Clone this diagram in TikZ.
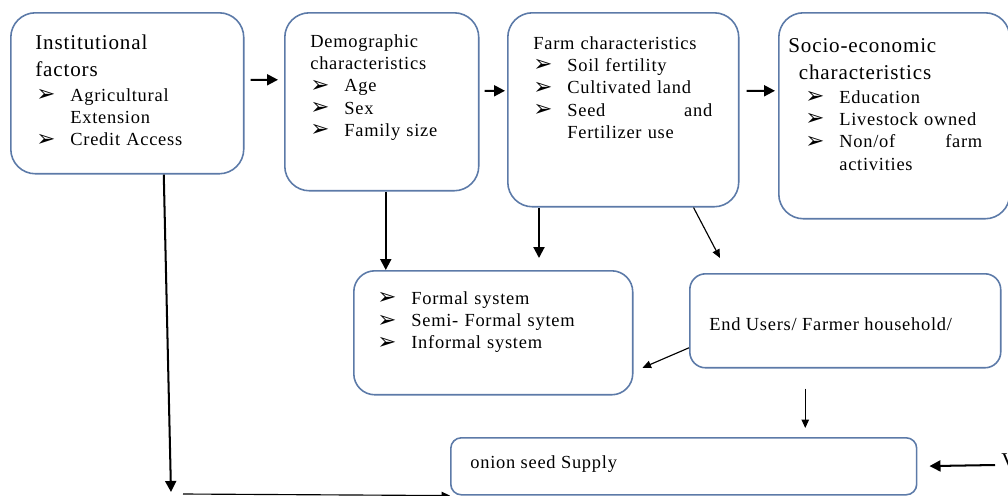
\documentclass[tikz,border=0pt]{standalone}
\usepackage{fontspec}
\setmainfont[LetterSpace=4]{Liberation Serif}
\newfontfamily\symfont{DejaVu Sans}
\usetikzlibrary{arrows.meta,calc}
\definecolor{boxblue}{RGB}{92,122,168}
% bullet and hanging indent for the lists
\newcommand{\pnt}{\makebox[0.68cm][l]{\raisebox{-0.3pt}{\symfont\fontsize{13}{13}\selectfont ➢}}}
\newcommand{\ind}{\hspace*{0.68cm}}
\tikzset{
  box/.style={draw=boxblue, line width=0.9pt, rounded corners=14pt, anchor=north west, inner sep=0pt},
  head/.style={anchor=north west, inner sep=0pt, align=left, font=\fontsize{12}{15.3}\selectfont},
  txt/.style={anchor=north west, inner sep=0pt, align=left, font=\fontsize{10.5}{12.7}\selectfont},
  flow/.style={black, line width=1.15pt, -{Triangle[length=0.22cm,width=0.22cm]}},
  link/.style={black, line width=0.65pt, -{Triangle[length=0.17cm,width=0.15cm]}},
}

\begin{document}
\begin{tikzpicture}[x=0.02cm, y=-0.02cm]
  \useasboundingbox (0,0) rectangle (1008,495);
  \clip (0,0) rectangle (1008,495);
  % top row of factor boxes
  \node[box, minimum width=4.66cm, minimum height=3.22cm] (inst) at (10,12) {};
  \node[box, minimum width=3.88cm, minimum height=3.56cm] (demo) at (284,12) {};
  \node[box, minimum width=4.62cm, minimum height=3.88cm] (farm) at (507,12) {};
  \node[box, minimum width=4.62cm, minimum height=4.12cm] (socio) at (778,12) {};
  % middle and bottom boxes
  \node[box, rounded corners=12pt, minimum width=5.58cm, minimum height=2.48cm] (formal) at (353,270) {};
  \node[box, rounded corners=9pt, minimum width=6.22cm, minimum height=1.88cm] (endu) at (689,273) {};
  \node[box, rounded corners=6pt, minimum width=9.32cm, minimum height=1.14cm] (onion) at (450,437) {};

  % box texts
  \node[head] (insthead) at ($(inst.north west)+(25,23)$) {Institutional\\factors};
  \node[txt, text width=4cm] (instlist) at ($(inst.north west)+(26,76)$)
    {\pnt Agricultural\\\ind Extension\\\pnt Credit Access};
  \node[txt, text width=3.5cm] (demolist) at ($(demo.north west)+(26,22)$)
    {Demographic\\characteristics\\\pnt Age\\\pnt Sex\\\pnt Family size};
  \node[txt, text width=3.58cm] (farmlist) at ($(farm.north west)+(26,24)$)
    {Farm characteristics\\\pnt Soil fertility\\\pnt Cultivated land\\\pnt Seed\hfill and\\\ind Fertilizer use};
  \node[head] (sociohead) at ($(socio.north west)+(10,26)$) {Socio-economic\\\hspace*{15\pgflinewidth}characteristics};
  \node[txt, text width=3.54cm] (sociolist) at ($(socio.north west)+(27,78)$)
    {\pnt Education\\\pnt Livestock owned\\\pnt Non/of\hfill farm\\\ind activities};
  \node[txt, text width=5cm] (formallist) at ($(formal.north west)+(24,21)$)
    {\pnt Formal system\\\pnt Semi- Formal sytem\\\pnt Informal system};
  \node[txt, anchor=west] (endutxt) at ($(endu.west)+(20,3)$) {End Users/ Farmer household/};
  \node[txt, anchor=west] (oniontxt) at ($(onion.west)+(20,-2)$) {onion seed Supply};
  \node[head, anchor=base west] (vlabel) at (1001,467) {V};

  % helper points for the loose arrow ends
  \coordinate (instfoot) at (171,492);
  \coordinate (footstart) at (183,494);
  \coordinate (vin) at (995,465);
  \path ($(demo.south)+(4,0)$) coordinate (demofoot);
  \path ($(farm.south west)+(32,0)$) coordinate (farmfoot);
  \path ($(endu.south)+(-40,20)$) coordinate (endufoot);

  % connectors
  \draw[flow, shorten <=0.12cm, shorten >=0.12cm] ($(inst.east)+(0,-13.5)$) -- ($(demo.west)+(0,-22)$);
  \draw[flow, shorten <=0.1cm, shorten >=0.04cm] ($(demo.east)+(0,-11)$) -- ($(farm.west)+(0,-19)$);
  \draw[flow, shorten <=0.14cm, shorten >=0.06cm] ($(farm.east)+(0,-19)$) -- ($(socio.west)+(0,-25)$);
  \draw[flow] ($(inst.south)+(36.5,0)$) -- (instfoot);
  \draw[link] (footstart) -- (onion.south west);
  \draw[flow] (demofoot) -- (demofoot |- formal.north);
  \draw[flow, shorten >=0.24cm] (farmfoot) -- (farmfoot |- formal.north);
  \draw[link] ($(farm.south east)+(-46,0)$) -- ($(endu.north west)+(31,-15)$);
  \draw[link] ($(endu.west)+(0,27)$) -- ($(formal.east)+(9,35)$);
  \draw[link, shorten >=0.18cm] (endufoot) -- (endufoot |- onion.north);
  \draw[flow, shorten >=0.24cm] (vin) -- (onion.east);
\end{tikzpicture}
\end{document}
